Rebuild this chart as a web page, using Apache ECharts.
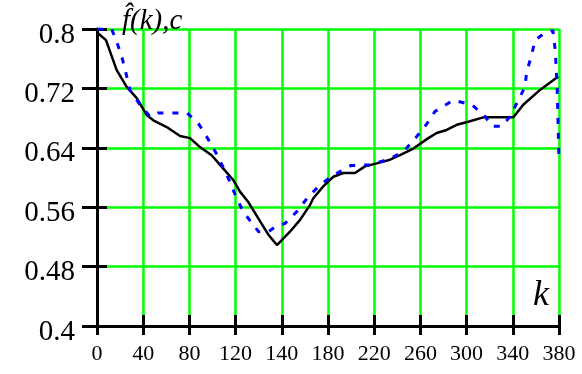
<!DOCTYPE html>
<html>
<head>
<meta charset="utf-8">
<script src="https://cdn.jsdelivr.net/npm/echarts@6/dist/echarts.min.js"></script>
<style>
  html, body { margin: 0; padding: 0; background: #fff; }
  #chart { width: 582px; height: 374px; }
</style>
</head>
<body>
<div id="chart"></div>
<script>
// k axis: 10 divisions over 0..380, labels as printed on the original
const xTickLabels = ['0', '40', '80', '120', '140', '180', '220', '260', '300', '340', '380']

// f^(k) estimate (black solid)
const fhatK = [1, 7.4, 16.1, 24.4, 32.7, 40.9, 46.3, 57.3, 68.3, 76.5, 84.7, 94.3, 101.2, 111.9, 117.6,
  124.4, 132.7, 140.9, 148, 158.7, 167, 175.2, 177.9, 186.1, 194.4, 202.6, 212.2, 220.4, 230.1, 241,
  249.2, 260.2, 272.5, 279.4, 287.6, 295.9, 305.4, 317.7, 342.4, 350.6, 364.4, 379.4]
const fhatV = [0.794, 0.785, 0.745, 0.722, 0.707, 0.684, 0.677, 0.668, 0.656, 0.653, 0.641, 0.630, 0.617, 0.597, 0.581,
  0.567, 0.545, 0.523, 0.509, 0.527, 0.543, 0.563, 0.572, 0.588, 0.601, 0.606, 0.606, 0.615, 0.619, 0.624,
  0.630, 0.639, 0.653, 0.660, 0.664, 0.671, 0.675, 0.681, 0.681, 0.698, 0.718, 0.736]

// c (blue dotted)
const cK = [0, 12, 16.2, 20.8, 23.9, 27.1, 35.4, 43.6, 50, 74, 83.3, 90.2, 97.9, 103.4, 109.4, 114.3,
  120.3, 128.6, 133, 141, 148, 154.6, 164.3, 173.8, 183.4, 194.4, 208.7, 224.5, 241, 253.3, 262.4,
  271.2, 278, 293, 308.2, 318.3, 325, 333, 339.7, 346.5, 352, 353.4, 357.5, 360.3, 367, 375, 377, 378.5, 380]
const cV = [0.8, 0.8, 0.783, 0.760, 0.740, 0.718, 0.698, 0.682, 0.687, 0.687, 0.673, 0.655, 0.633, 0.615, 0.594, 0.574,
  0.554, 0.536, 0.527, 0.527, 0.535, 0.538, 0.554, 0.574, 0.590, 0.603, 0.616, 0.617, 0.625, 0.637, 0.654,
  0.672, 0.689, 0.704, 0.698, 0.684, 0.669, 0.669, 0.682, 0.704, 0.722, 0.742, 0.765, 0.785, 0.793, 0.798, 0.77, 0.72, 0.624]

const chart = echarts.init(document.getElementById('chart'))

const serif = '"Liberation Serif", "Times New Roman", serif'
const xCommon = { type: 'value', min: 0, max: 380, interval: 38, position: 'bottom', offset: 0 }
const yCommon = { type: 'value', min: 0.4, max: 0.8, interval: 0.08, position: 'left', offset: 0 }

const option = {
  animation: false,
  backgroundColor: '#fff',
  grid: { left: 97, right: 23, top: 29, bottom: 48 },
  title: {
    text: 'f\u0302(k),c',
    left: 117, top: 2,
    textStyle: { fontFamily: serif, fontStyle: 'italic', fontWeight: 'normal', fontSize: 29, color: '#000' }
  },
  graphic: [{
    type: 'text', left: 533, top: 278,
    style: { text: 'k', font: 'italic 36px "Liberation Serif"', fill: '#000' }
  }],
  xAxis: [
    {
      ...xCommon,
      axisLine: { lineStyle: { color: '#000', width: 3 } },
      axisTick: { inside: true, length: 11, lineStyle: { color: '#000', width: 3 } },
      axisLabel: {
        margin: 17, fontFamily: serif, fontSize: 22, color: '#000',
        formatter: v => xTickLabels[Math.round(v / 38)]
      },
      splitLine: { show: true, lineStyle: { color: '#00ff00', width: 2.5 } }
    },
    {
      ...xCommon,
      axisLine: { show: false },
      axisTick: { length: 9, lineStyle: { color: '#000', width: 3 } },
      axisLabel: { show: false },
      splitLine: { show: false }
    }
  ],
  yAxis: [
    {
      ...yCommon,
      axisLine: { show: true, lineStyle: { color: '#000', width: 3 } },
      axisTick: { show: true, inside: true, length: 10, lineStyle: { color: '#000', width: 3 } },
      axisLabel: {
        margin: 22, fontFamily: serif, fontSize: 29, color: '#000',
        verticalAlign: 'top', lineHeight: 12,
        formatter: v => String(+v.toFixed(2))
      },
      splitLine: { show: true, lineStyle: { color: '#00ff00', width: 2.5 } }
    },
    {
      ...yCommon,
      axisLine: { show: false },
      axisTick: { show: true, length: 15, lineStyle: { color: '#000', width: 3 } },
      axisLabel: { show: false },
      splitLine: { show: false }
    }
  ],
  series: [
    {
      type: 'line',
      data: fhatK.map((k, i) => [k, fhatV[i]]),
      showSymbol: false,
      lineStyle: { color: '#000', width: 2.5 },
      z: 3
    },
    {
      type: 'line',
      data: cK.map((k, i) => [k, cV[i]]),
      showSymbol: false,
      lineStyle: { color: '#0000ff', width: 3, type: [6, 9] },
      z: 4
    }
  ]
}

chart.setOption(option)
</script>
</body>
</html>
